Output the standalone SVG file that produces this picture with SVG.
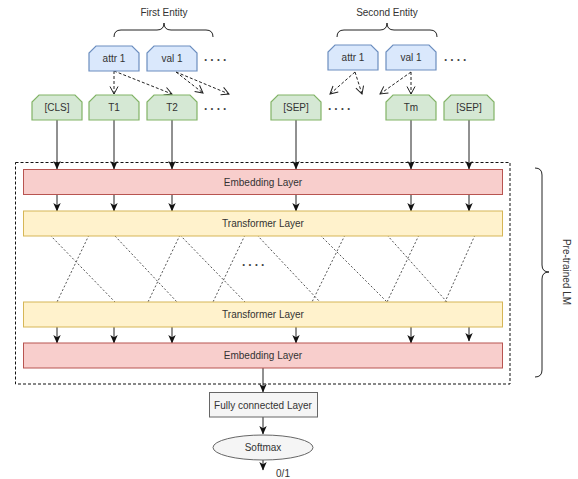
<svg xmlns="http://www.w3.org/2000/svg" width="578" height="479" viewBox="0 0 578 479">
<style>
text{font-family:"Liberation Sans",Arial,sans-serif;font-size:10px;fill:#333;text-anchor:middle}
.blue{fill:#dae8fc;stroke:#6c8ebf;stroke-width:1.2}
.green{fill:#d5e8d4;stroke:#82b366;stroke-width:1.2}
.emb{fill:#f8cecc;stroke:#b85450;stroke-width:1}
.trf{fill:#fff2cc;stroke:#d6b656;stroke-width:1}
.gray{fill:#f5f5f5;stroke:#666;stroke-width:1}
.nt{fill:#000}
.arr{stroke:#222;stroke-width:1;fill:none;marker-end:url(#ah)}
.darr{stroke:#222;stroke-width:1;fill:none;stroke-dasharray:3,2;marker-end:url(#oh)}
.cross{stroke:#555;stroke-width:1;fill:none;stroke-dasharray:2,2}
.brace{stroke:#222;stroke-width:1;fill:none}
.dots{font-size:12px;font-weight:bold;fill:#444;letter-spacing:3px;text-anchor:start}
</style>
<defs>
<marker id="ah" markerUnits="userSpaceOnUse" markerWidth="9" markerHeight="9" viewBox="0 0 9 9" refX="8" refY="4.5" orient="auto">
<path d="M0,0.8 L8.5,4.5 L0,8.2 L2.2,4.5 Z" fill="#111"/>
</marker>
<marker id="oh" markerUnits="userSpaceOnUse" markerWidth="10" markerHeight="10" viewBox="0 0 10 10" refX="8.5" refY="5" orient="auto">
<path d="M1,1 L8.5,5 L1,9" fill="none" stroke="#222" stroke-width="1"/>
</marker>
</defs>
<rect width="578" height="479" fill="#fff"/>

<g id="connectors">
<!-- dashed mapping arrows -->
<line class="darr" x1="114" y1="71" x2="114" y2="94"/>
<line class="darr" x1="114" y1="71" x2="172" y2="94"/>
<line class="darr" x1="176" y1="72" x2="203" y2="93"/>
<line class="darr" x1="176" y1="72" x2="229" y2="94"/>
<line class="darr" x1="355" y1="72" x2="330" y2="94"/>
<line class="darr" x1="355" y1="72" x2="362" y2="94"/>
<line class="darr" x1="411" y1="72" x2="380" y2="94"/>
<line class="darr" x1="411" y1="72" x2="411" y2="94"/>
<!-- tokens to embedding -->
<line class="arr" x1="57" y1="120" x2="57" y2="169"/>
<line class="arr" x1="114" y1="120" x2="114" y2="169"/>
<line class="arr" x1="172" y1="120" x2="172" y2="169"/>
<line class="arr" x1="296" y1="120" x2="296" y2="169"/>
<line class="arr" x1="411" y1="120" x2="411" y2="169"/>
<line class="arr" x1="469" y1="120" x2="469" y2="169"/>
<!-- embedding to transformer -->
<line class="arr" x1="57" y1="194" x2="57" y2="211"/>
<line class="arr" x1="114" y1="194" x2="114" y2="211"/>
<line class="arr" x1="172" y1="194" x2="172" y2="211"/>
<line class="arr" x1="296" y1="194" x2="296" y2="211"/>
<line class="arr" x1="411" y1="194" x2="411" y2="211"/>
<line class="arr" x1="469" y1="194" x2="469" y2="211"/>
<!-- cross lines -->
<line class="cross" x1="50" y1="235" x2="115" y2="302"/>
<line class="cross" x1="89" y1="235" x2="57" y2="302"/>
<line class="cross" x1="115" y1="236" x2="177" y2="302"/>
<line class="cross" x1="180" y1="235" x2="148" y2="302"/>
<line class="cross" x1="180" y1="235" x2="245" y2="302"/>
<line class="cross" x1="245" y1="235" x2="213" y2="302"/>
<line class="cross" x1="257" y1="235" x2="320" y2="302"/>
<line class="cross" x1="345" y1="235" x2="312" y2="302"/>
<line class="cross" x1="320" y1="235" x2="387" y2="302"/>
<line class="cross" x1="387" y1="235" x2="447" y2="302"/>
<line class="cross" x1="419" y1="235" x2="387" y2="302"/>
<line class="cross" x1="475" y1="235" x2="445" y2="302"/>
<!-- transformer to embedding -->
<line class="arr" x1="57" y1="327" x2="57" y2="343"/>
<line class="arr" x1="114" y1="327" x2="114" y2="343"/>
<line class="arr" x1="172" y1="327" x2="172" y2="343"/>
<line class="arr" x1="296" y1="327" x2="296" y2="343"/>
<line class="arr" x1="411" y1="327" x2="411" y2="343"/>
<line class="arr" x1="469" y1="325" x2="469" y2="341"/>
<!-- head -->
<line class="arr" x1="263" y1="368" x2="263" y2="392"/>
<line class="arr" x1="263" y1="417" x2="263" y2="434"/>
<line class="arr" x1="263" y1="460" x2="263" y2="470"/>
<!-- braces -->
<path class="brace" d="M114,37 Q114,30 121,30 L157,30 Q164,30 164,23 Q164,30 171,30 L206,30 Q213,30 213,37"/>
<path class="brace" d="M337,37 Q337,30 344,30 L380,30 Q387,30 387,23 Q387,30 394,30 L430,30 Q437,30 437,37"/>
<path class="brace" d="M535,168 Q542,168 542,175 L542,265 Q542,272 549,272 Q542,272 542,279 L542,370 Q542,377 535,377"/>
</g>

<g id="pretrained-box">
<rect x="15.5" y="162.5" width="494.5" height="221.5" fill="none" stroke="#111" stroke-width="1" stroke-dasharray="3,2"/>
</g>

<g id="first-entity-label"><text x="164" y="16">First Entity</text></g>
<g id="second-entity-label"><text x="387" y="16">Second Entity</text></g>

<g id="attr1-a"><path class="blue" d="M96,46 L132,46 L139,53 L139,71 L89,71 L89,53 Z"/><text x="114" y="62">attr 1</text></g>
<g id="val1-a"><path class="blue" d="M154,46 L190,46 L197,53 L197,71 L147,71 L147,53 Z"/><text x="172" y="62">val 1</text></g>
<g id="dots-a"><text class="dots" x="204" y="61">....</text></g>
<g id="attr1-b"><path class="blue" d="M335,45 L371,45 L378,52 L378,70 L328,70 L328,52 Z"/><text x="353" y="61">attr 1</text></g>
<g id="val1-b"><path class="blue" d="M393,45 L429,45 L436,52 L436,70 L386,70 L386,52 Z"/><text x="411" y="61">val 1</text></g>
<g id="dots-b"><text class="dots" x="444" y="61">....</text></g>

<g id="cls"><path class="green" d="M39,95 L75,95 L82,102 L82,120 L32,120 L32,102 Z"/><text x="57" y="111">[CLS]</text></g>
<g id="t1"><path class="green" d="M96,95 L132,95 L139,102 L139,120 L89,120 L89,102 Z"/><text x="114" y="111">T1</text></g>
<g id="t2"><path class="green" d="M154,95 L190,95 L197,102 L197,120 L147,120 L147,102 Z"/><text x="172" y="111">T2</text></g>
<g id="dots-c"><text class="dots" x="204" y="110">....</text></g>
<g id="sep1"><path class="green" d="M278,95 L314,95 L321,102 L321,120 L271,120 L271,102 Z"/><text x="296" y="111">[SEP]</text></g>
<g id="dots-d"><text class="dots" x="328" y="110">....</text></g>
<g id="tm"><path class="green" d="M393,95 L429,95 L436,102 L436,120 L386,120 L386,102 Z"/><text x="411" y="111">Tm</text></g>
<g id="sep2"><path class="green" d="M451,95 L487,95 L494,102 L494,120 L444,120 L444,102 Z"/><text x="469" y="111">[SEP]</text></g>

<g id="embedding-top"><rect class="emb" x="23.5" y="169.5" width="479" height="25"/><text x="263" y="185.5">Embedding Layer</text></g>
<g id="transformer-top"><rect class="trf" x="23.5" y="211" width="479" height="25"/><text x="263" y="227">Transformer Layer</text></g>
<g id="dots-e"><text class="dots" x="242" y="266">....</text></g>
<g id="transformer-bottom"><rect class="trf" x="23.5" y="302" width="479" height="25"/><text x="263" y="318">Transformer Layer</text></g>
<g id="embedding-bottom"><rect class="emb" x="23.5" y="343" width="479" height="25"/><text x="263" y="359">Embedding Layer</text></g>

<g id="fully-connected"><rect class="gray" x="209.5" y="392.5" width="108" height="24.5"/><text x="263" y="408.5">Fully connected Layer</text></g>
<g id="softmax"><ellipse class="gray" cx="263" cy="447.5" rx="50" ry="12.5"/><text x="263" y="451">Softmax</text></g>
<g id="output-label"><text x="283" y="477">0/1</text></g>
<g id="pretrained-label"><text transform="translate(563,272) rotate(90)">Pre-trained LM</text></g>
</svg>
